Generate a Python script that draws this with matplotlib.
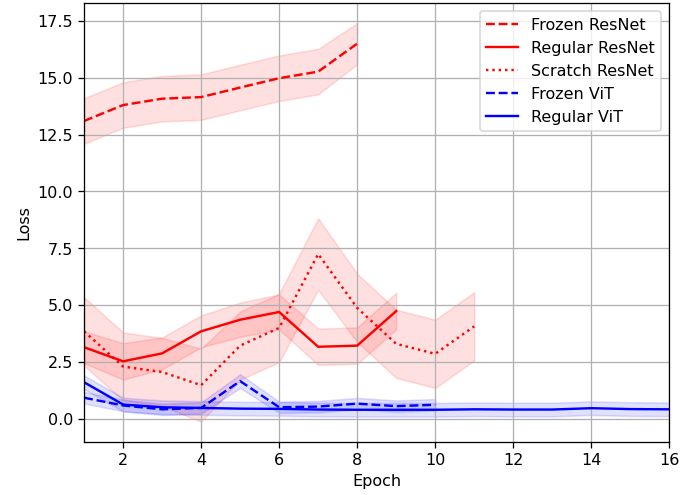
import matplotlib
matplotlib.use("Agg")
import matplotlib.pyplot as plt
import numpy as np

# mean loss per epoch and spread (std)
frozen_resnet = [13.1, 13.8, 14.08, 14.15, 14.57, 14.98, 15.27, 16.5]
frozen_resnet_std = [1.0, 1.0, 1.0, 1.0, 1.0, 1.0, 1.0, 0.9]

regular_resnet = [3.15, 2.53, 2.88, 3.85, 4.36, 4.70, 3.17, 3.22, 4.74]
regular_resnet_std = [0.7, 0.8, 0.7, 0.7, 0.75, 0.77, 0.8, 0.8, 0.8]

scratch_resnet = [3.85, 2.3, 2.06, 1.48, 3.22, 4.0, 7.25, 4.88, 3.3, 2.86, 4.07]
scratch_resnet_std = [1.5, 1.5, 1.5, 1.6, 1.5, 1.5, 1.57, 1.5, 1.5, 1.5, 1.5]

frozen_vit = [0.93, 0.59, 0.42, 0.48, 1.66, 0.51, 0.54, 0.67, 0.56, 0.62]
frozen_vit_std = [0.25, 0.25, 0.25, 0.25, 0.3, 0.25, 0.25, 0.25, 0.25, 0.25]

regular_vit = [1.61, 0.63, 0.51, 0.48, 0.45, 0.44, 0.41, 0.40, 0.40, 0.40,
               0.42, 0.41, 0.41, 0.47, 0.43, 0.42]
regular_vit_std = [0.3] * 16

series = [
    ("Frozen ResNet", frozen_resnet, frozen_resnet_std, "red", "--"),
    ("Regular ResNet", regular_resnet, regular_resnet_std, "red", "-"),
    ("Scratch ResNet", scratch_resnet, scratch_resnet_std, "red", ":"),
    ("Frozen ViT", frozen_vit, frozen_vit_std, "blue", "--"),
    ("Regular ViT", regular_vit, regular_vit_std, "blue", "-"),
]

dpi = 115
fig, ax = plt.subplots(figsize=(695 / dpi, 495.2 / dpi), dpi=dpi)
for name, mean, std, color, ls in series:
    mean = np.array(mean)
    std = np.array(std)
    epochs = np.arange(1, len(mean) + 1)
    ax.plot(epochs, mean, color=color, linestyle=ls, label=name)
    ax.fill_between(epochs, mean - std, mean + std, color=color, alpha=0.12)

ax.set_xlim(1, 16)
ax.set_xlabel("Epoch")
ax.set_ylabel("Loss")
ax.grid(True)
ax.legend(loc="upper right")
plt.subplots_adjust(left=0.121, right=0.963, top=0.993, bottom=0.108)
plt.savefig("out.png", dpi=dpi)
